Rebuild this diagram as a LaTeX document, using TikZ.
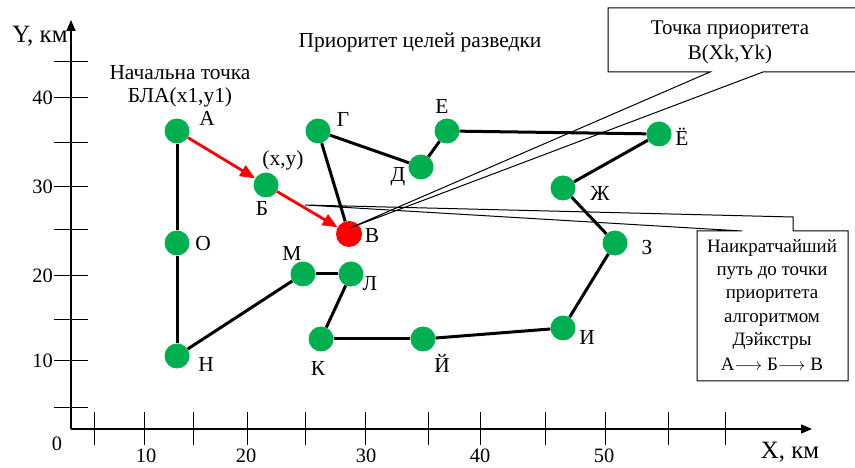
\documentclass[tikz,border=0pt]{standalone}
\usepackage{fontspec}
\setmainfont{Liberation Serif}
\usetikzlibrary{arrows.meta}
\definecolor{gr}{HTML}{00B050}
\begin{document}
\begin{tikzpicture}[x=1bp,y=-1bp,
  pt/.style={circle,fill=gr,minimum size=25bp,inner sep=0pt},
  ptr/.style={circle,fill=red,minimum size=26bp,inner sep=0pt},
  edge/.style={line width=3bp,black},
  redarr/.style={red,line width=2.8bp,-{Triangle[length=15bp,width=12bp]}},
  lbl/.style={font=\fontsize{21.5}{23}\selectfont,inner sep=0pt},
  num/.style={font=\fontsize{20.5}{23}\selectfont,inner sep=0pt},
  axlbl/.style={font=\fontsize{25}{26}\selectfont,inner sep=0pt},
  small/.style={font=\fontsize{19}{23.3}\selectfont,inner sep=0pt,align=center},
  axis/.style={line width=1.3bp,-{Triangle[length=11bp,width=9bp]}},
  tick/.style={line width=1bp},
  callout/.style={line width=1bp,black}]
\useasboundingbox (0,0) rectangle (855,468);
% axes
\coordinate (O0) at (71,429);
\coordinate (Ytip) at (71,20);
\coordinate (Xtip) at (812,429);
\draw[axis] (O0) -- (Ytip);
\draw[axis] (O0) -- (Xtip);
\foreach \y in {62,98,143,187,230,276,320,361,407}
  \draw[tick] (54,\y) -- (88,\y);
\foreach \x in {94,144,193,247,305,365,428,480,545,605,668,725}
  \draw[tick] (\x,412) -- (\x,445);
\node[num,anchor=east] (t40) at (53,98) {40};
\node[num,anchor=east] (t30) at (53,187) {30};
\node[num,anchor=east] (t20) at (53,276) {20};
\node[num,anchor=east] (t10) at (53,361) {10};
\node[num] (x0) at (57,444) {0};
\node[num] (x10) at (146,456) {10};
\node[num] (x20) at (246,456) {20};
\node[num] (x30) at (366,456) {30};
\node[num] (x40) at (480,456) {40};
\node[num] (x50) at (604,456) {50};
\node[axlbl] (xl) at (790,452) {X, км};
\node[axlbl] (yl) at (40,36) {Y, км};
% points
\node[pt] (A) at (177,131) {};
\node[pt] (B) at (266,185) {};
\node[ptr] (V) at (349,234) {};
\node[pt] (G) at (318,131) {};
\node[pt] (D) at (421,167) {};
\node[pt] (E) at (447,131) {};
\node[pt] (Yo) at (659,134) {};
\node[pt] (Zh) at (563,188) {};
\node[pt] (Z) at (615,243) {};
\node[pt] (I) at (563,328) {};
\node[pt] (Ik) at (423,339) {};
\node[pt] (K) at (321,339) {};
\node[pt] (L) at (351,274) {};
\node[pt] (M) at (303,274) {};
\node[pt] (Oo) at (177,243) {};
\node[pt] (N) at (177,356) {};
% edges
\draw[edge] (A) -- (Oo);
\draw[edge] (Oo) -- (N);
\draw[edge] (N) -- (M);
\draw[edge] (M) -- (L);
\draw[edge] (L) -- (K);
\draw[edge] (K) -- (Ik);
\draw[edge] (Ik) -- (I);
\draw[edge] (I) -- (Z);
\draw[edge] (Z) -- (Zh);
\draw[edge] (Zh) -- (Yo);
\draw[edge] (Yo) -- (E);
\draw[edge] (E) -- (D);
\draw[edge] (D) -- (G);
\draw[edge] (G) -- (V);
\draw[redarr] (A) -- (B);
\draw[redarr] (B) -- (V);
% labels
\node[lbl] (tA) at (207,118) {А};
\node[lbl] (txy) at (283,160) {(x,y)};
\node[lbl] (tB) at (262,208) {Б};
\node[lbl] (tV) at (372,236) {В};
\node[lbl] (tG) at (343,119) {Г};
\node[lbl] (tD) at (398,177) {Д};
\node[lbl] (tE) at (442,106) {Е};
\node[lbl] (tYo) at (682,137) {Ё};
\node[lbl] (tZh) at (600,193) {Ж};
\node[lbl] (tZ) at (647,248) {З};
\node[lbl] (tI) at (587,337) {И};
\node[lbl] (tIk) at (442,363) {Й};
\node[lbl] (tK) at (318,368) {К};
\node[lbl] (tL) at (370,284) {Л};
\node[lbl] (tM) at (292,253) {М};
\node[lbl] (tO) at (203,244) {О};
\node[lbl] (tN) at (206,364) {Н};
\node[lbl,align=center] (start) at (180,86) {Начальна точка\\БЛА(x1,y1)};
\node[lbl] (title) at (420,42) {Приоритет целей разведки};
% callout 1
\coordinate (c1tip) at (350,228);
\fill[white] (608,8) rectangle (870,72);
\draw[callout] (870,72) -- (763,72) -- (c1tip) -- (710,72) -- (608,72) -- (608,8) -- (870,8);
\node[lbl,align=center,font=\fontsize{21}{25}\selectfont] (c1) at (730,42) {Точка приоритета\\В(Xk,Yk)};
% callout 2
\coordinate (c2tip) at (305,205);
\fill[white] (697,231) rectangle (848,381);
\draw[callout] (697,231) -- (742,231) -- (c2tip) -- (793,217) -- (793,231) -- (848,231) -- (848,381) -- (697,381) -- cycle;
\node[small] (c2) at (772,305) {Наикратчайший\\путь до точки\\приоритета\\алгоритмом\\Дэйкстры\\[2bp]А$\mathbf{\longrightarrow}$ Б$\mathbf{\longrightarrow}$ В};
\end{tikzpicture}
\end{document}
